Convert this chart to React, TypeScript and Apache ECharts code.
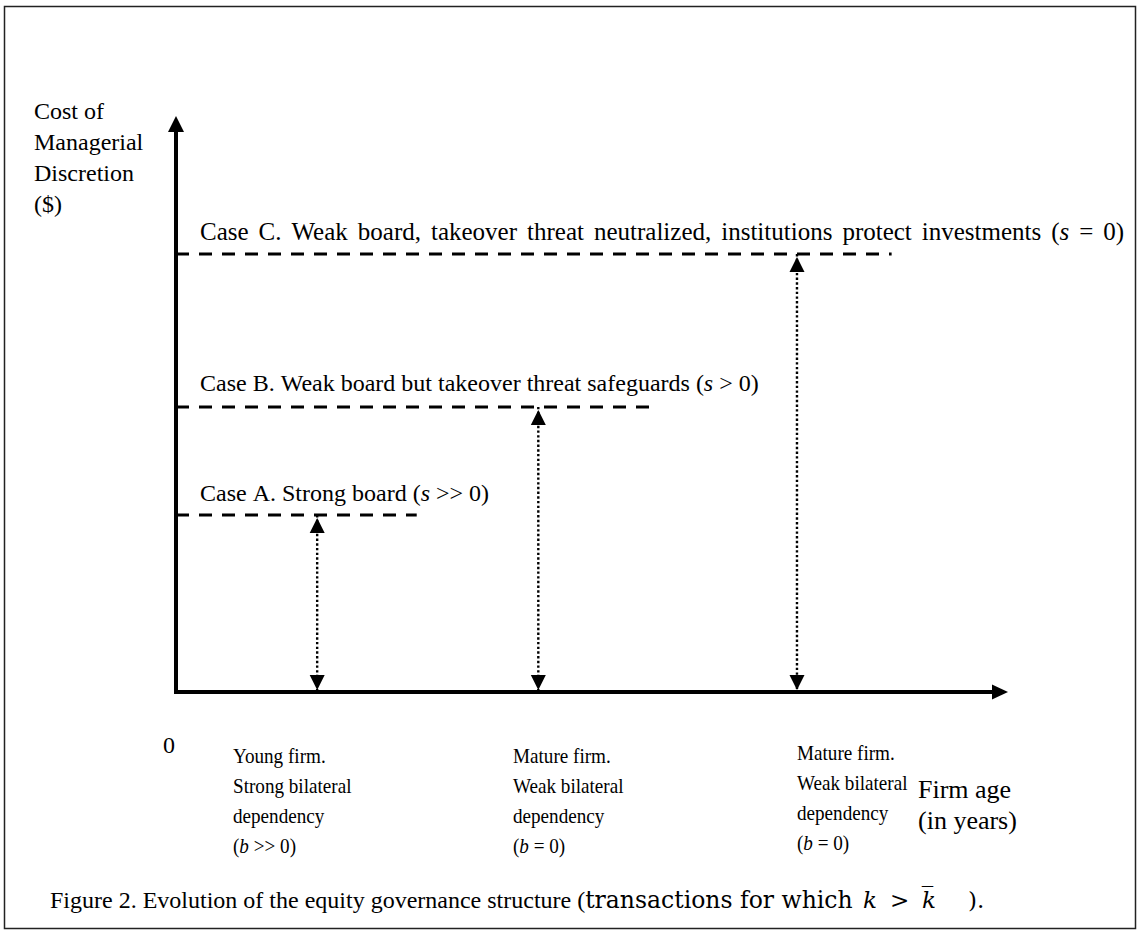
import React, { useEffect, useRef } from "react";
import * as echarts from "echarts";

// ---------- data ----------
const X_MAX = 100;
const Y_MAX = 100;
const caseLevels = [31.6, 50.9, 78.2];
const caseLineEnds = [29.5, 58.7, 87.7];
const arrowPositions = [17.3, 44.4, 76.1];
const caseLabels = [
  "Case A. Strong board ({i|s} >> 0)",
  "Case B. Weak board but takeover threat safeguards ({i|s} > 0)",
  "Case C. Weak board, takeover threat neutralized, institutions protect investments ({i|s} = 0)",
];
const firmLabels = [
  ["Young firm.", "Strong bilateral", "dependency", "({i|b} >> 0)"],
  ["Mature firm.", "Weak bilateral", "dependency", "({i|b} = 0)"],
  ["Mature firm.", "Weak bilateral", "dependency", "({i|b} = 0)"],
];
const yAxisTitle = ["Cost of", "Managerial", "Discretion", "($)"];
const xAxisTitle = ["Firm age", "(in years)"];
const originLabel = "0";
const captionMain = "Figure 2. Evolution of the equity governance structure (";
const captionMid = "transactions for which";
const captionMath = ["k", ">", "k\u0305", ")."];

// ---------- layout ----------
const SERIF = "Liberation Serif";
const BLACK = "#000";
const grid = { left: 176, top: 132, width: 816, height: 560 };
const caseLabelPos = [
  { x: 200, y: 493, size: 24, space: 6 },
  { x: 200, y: 383, size: 24, space: 6 },
  { x: 200, y: 231, size: 25, space: 10 },
];
const firmLabelPos = [
  { x: 233, y: 741 },
  { x: 513, y: 741 },
  { x: 797, y: 738 },
];
const captionMathX = [863, 890, 922, 968];

const rich = (size: number, space: number) => ({
  i: { fontFamily: SERIF, fontSize: size, fontStyle: "italic" as const, fill: BLACK },
  n: { fontFamily: SERIF, fontSize: size, fill: BLACK },
  sp: { fontFamily: SERIF, fontSize: size, fill: BLACK, width: space },
});

// turn spaces into fixed-width spacer tokens
const spaced = (t: string) =>
  t
    .split(/(\{i\|[^}]*\})/)
    .map((seg) =>
      seg.startsWith("{i|")
        ? seg
        : seg
            .split(" ")
            .map((w) => (w ? `{n|${w}}` : ""))
            .join("{sp| }")
    )
    .join("");

export default function App() {
  const ref = useRef<HTMLDivElement>(null);
  useEffect(() => {
    if (!ref.current) return;
    const chart = echarts.init(ref.current, null, { renderer: "svg" });

    const series: any[] = [];
    series.push({
      type: "line",
      silent: true,
      z: 5,
      data: [
        { value: [0, 0], symbol: "none" },
        { value: [0, Y_MAX], symbol: "triangle", symbolSize: [16, 16], symbolOffset: [0, -8] },
      ],
      lineStyle: { color: BLACK, width: 4, cap: "square" },
      itemStyle: { color: BLACK },
    });
    series.push({
      type: "line",
      silent: true,
      z: 5,
      data: [
        { value: [0, 0], symbol: "none" },
        {
          value: [X_MAX, 0],
          symbol: "triangle",
          symbolSize: [15, 16],
          symbolRotate: -90,
          symbolOffset: [8, 0],
        },
      ],
      lineStyle: { color: BLACK, width: 4, cap: "square" },
      itemStyle: { color: BLACK },
    });
    caseLevels.forEach((lv, i) => {
      series.push({
        type: "line",
        silent: true,
        z: 3,
        symbol: "none",
        data: [
          [0, lv],
          [caseLineEnds[i], lv],
        ],
        lineStyle: { color: BLACK, width: 3, type: [13, 10] },
      });
    });
    arrowPositions.forEach((x, i) => {
      series.push({
        type: "line",
        silent: true,
        z: 4,
        data: [
          { value: [x, caseLevels[i]], symbol: "triangle", symbolSize: [15, 15], symbolOffset: [0, 10.5] },
          {
            value: [x, 0],
            symbol: "triangle",
            symbolSize: [15, 15],
            symbolRotate: 180,
            symbolOffset: [0, -9.5],
          },
        ],
        lineStyle: { color: BLACK, width: 2.4, type: [2.4, 2.3] },
        itemStyle: { color: BLACK },
      });
    });

    const graphics: any[] = [
      {
        type: "rect",
        silent: true,
        shape: { x: 4.5, y: 6.5, width: 1131, height: 922 },
        style: { fill: "none", stroke: "#222", lineWidth: 1.5 },
      },
      {
        type: "text",
        x: 34,
        y: 95,
        style: {
          text: yAxisTitle.join("\n"),
          fontFamily: SERIF,
          fontSize: 24,
          lineHeight: 31,
          fill: BLACK,
          verticalAlign: "top",
        },
      },
      {
        type: "text",
        x: 163,
        y: 745,
        style: { text: originLabel, fontFamily: SERIF, fontSize: 24, fill: BLACK, verticalAlign: "middle" },
      },
      {
        type: "text",
        x: 918,
        y: 774,
        style: {
          text: xAxisTitle.join("\n"),
          fontFamily: SERIF,
          fontSize: 26,
          lineHeight: 31,
          fill: BLACK,
          verticalAlign: "top",
        },
      },
    ];
    caseLabels.forEach((t, i) => {
      const p = caseLabelPos[i];
      graphics.push({
        type: "text",
        x: p.x,
        y: p.y,
        style: {
          text: spaced(t),
          fontFamily: SERIF,
          fontSize: p.size,
          fill: BLACK,
          verticalAlign: "middle",
          rich: rich(p.size, p.space),
        },
      });
    });
    firmLabels.forEach((lines, i) => {
      graphics.push({
        type: "text",
        x: firmLabelPos[i].x,
        y: firmLabelPos[i].y,
        scaleX: 0.87,
        style: {
          text: lines.join("\n"),
          fontFamily: SERIF,
          fontSize: 22,
          lineHeight: 30,
          fill: BLACK,
          verticalAlign: "top",
          rich: {
            i: { fontFamily: SERIF, fontSize: 22, fontStyle: "italic", fill: BLACK },
          },
        },
      });
    });
    graphics.push({
      type: "text",
      x: 50,
      y: 900,
      style: {
        text: `{a|${captionMain}}{b|${captionMid}}`,
        verticalAlign: "middle",
        rich: {
          a: { fontFamily: SERIF, fontSize: 24, fill: BLACK },
          b: { fontFamily: "DejaVu Serif", fontSize: 23.5, fill: BLACK },
        },
      },
    });
    captionMath.forEach((t, i) => {
      graphics.push({
        type: "text",
        x: captionMathX[i],
        y: 900,
        style: {
          text: t,
          fontFamily: "DejaVu Serif",
          fontSize: 23,
          fontStyle: i === 0 || i === 2 ? "italic" : "normal",
          fill: BLACK,
          verticalAlign: "middle",
        },
      });
    });

    chart.setOption({
      animation: false,
      backgroundColor: "#fff",
      grid: { ...grid, containLabel: false },
      xAxis: { type: "value", min: 0, max: X_MAX, show: false },
      yAxis: { type: "value", min: 0, max: Y_MAX, show: false },
      series,
      graphic: graphics,
    });
    return () => chart.dispose();
  }, []);
  return (
    <div
      ref={ref}
      style={{ position: "absolute", left: 0, top: 0, width: 1138, height: 935 }}
    />
  );
}
